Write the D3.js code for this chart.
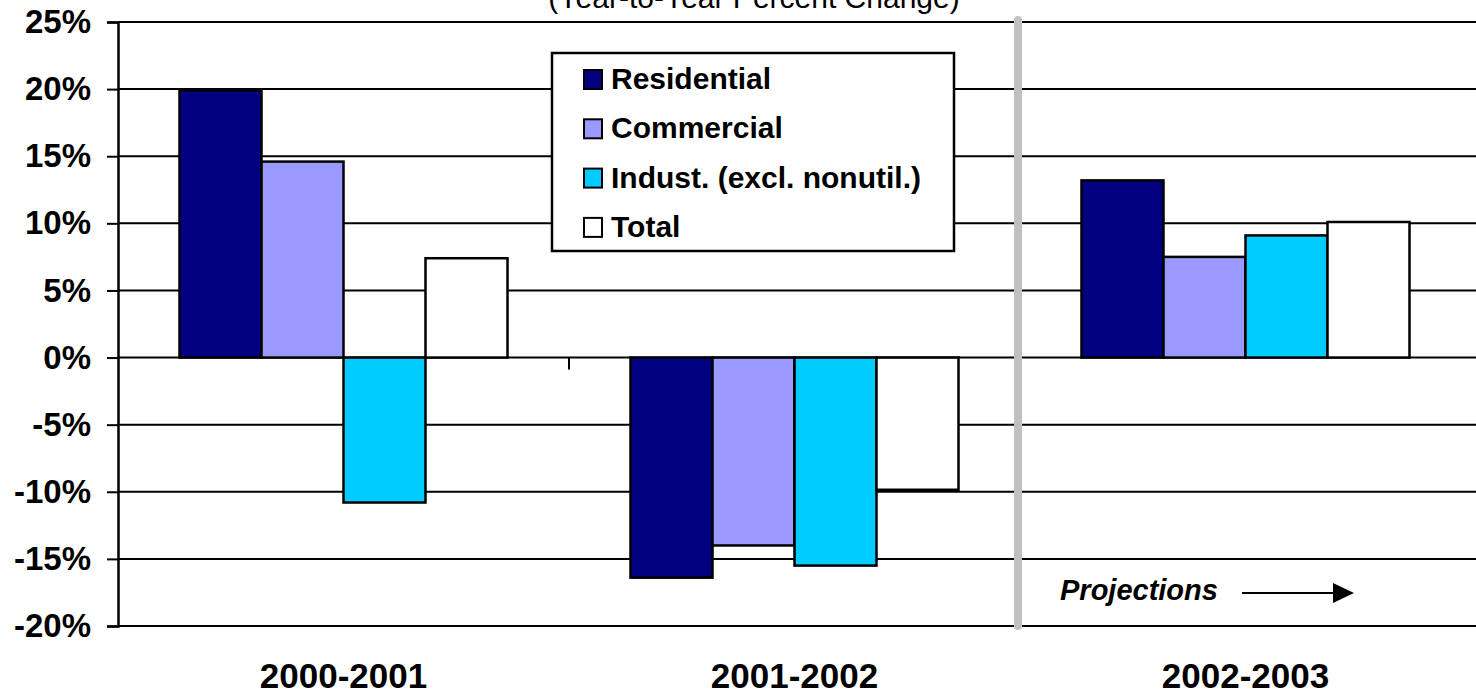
<!DOCTYPE html>
<html>
<head>
<meta charset="utf-8">
<script src="https://cdn.jsdelivr.net/npm/d3@7"></script>
<style>
  html, body { margin: 0; padding: 0; background: #fff; }
  svg { display: block; font-family: "Liberation Sans", Arial, sans-serif; }
</style>
</head>
<body>
<svg width="1476" height="696"></svg>
<script>
// data
var categories = ['2000-2001', '2001-2002', '2002-2003'];
var seriesNames = ['Residential', 'Commercial', 'Indust. (excl. nonutil.)', 'Total'];
var residential = [19.9, -16.4, 13.2];
var commercial = [14.6, -14.0, 7.5];
var industrial = [-10.8, -15.5, 9.1];
var total = [7.4, -9.85, 10.1];
var yTicks = [-20, -15, -10, -5, 0, 5, 10, 15, 20, 25];

var color = {
  residential: '#000080',
  commercial: '#9999FF',
  industrial: '#00CCFF',
  total: '#FFFFFF',
  divider: '#C0C0C0'
};
var fills = [color.residential, color.commercial, color.industrial, color.total];
var series = [residential, commercial, industrial, total];

var svg = d3.select('svg');
// note: "top" is taken by window.top, so plot edges get their own names
var plotLeft = 118, plotRight = 1471, plotTop = 22, plotBottom = 626;

var x = d3.scaleBand().domain(categories).range([plotLeft, plotRight]).padding(0);
var xs = d3.scaleBand().domain(d3.range(series.length)).range([0, x.bandwidth()])
  .paddingInner(0).paddingOuter(0.75);
var y = d3.scaleLinear().domain([-20, 25]).range([plotBottom, plotTop]);

// title (cut off at the top in the original)
svg.append('text').attr('x', 754).attr('y', 8).attr('text-anchor', 'middle')
  .attr('font-size', 30).text('(Year-to-Year Percent Change)');

// gridlines
svg.append('g').selectAll('line').data(yTicks).join('line')
  .attr('x1', plotLeft).attr('x2', 1476)
  .attr('y1', function(d) { return y(d); }).attr('y2', function(d) { return y(d); })
  .attr('stroke', '#000').attr('stroke-width', 2);

// y axis
var yAxis = d3.axisLeft(y).tickValues(yTicks).tickSize(11).tickPadding(16)
  .tickFormat(function(d) { return d + '%'; });
var ya = svg.append('g').attr('transform', 'translate(' + plotLeft + ',0)').call(yAxis);
ya.select('.domain').attr('stroke', '#000').attr('stroke-width', 2.5);
ya.selectAll('.tick line').attr('stroke', '#000').attr('stroke-width', 2);
ya.selectAll('.tick text').attr('font-size', 33).attr('font-weight', 'bold')
  .attr('fill', '#000').attr('font-family', '"Liberation Sans", Arial, sans-serif');

// category boundary ticks on the zero line
svg.append('g').selectAll('line').data(categories.slice(0, 2)).join('line')
  .attr('x1', function(d) { return x(d) + x.bandwidth(); })
  .attr('x2', function(d) { return x(d) + x.bandwidth(); })
  .attr('y1', y(0)).attr('y2', y(0) + 12)
  .attr('stroke', '#000').attr('stroke-width', 2);

// bars
series.forEach(function(values, i) {
  svg.append('g').selectAll('rect').data(values).join('rect')
    .attr('x', function(d, j) { return x(categories[j]) + xs(i); })
    .attr('width', xs.bandwidth())
    .attr('y', function(d) { return y(Math.max(0, d)); })
    .attr('height', function(d) { return Math.abs(y(d) - y(0)); })
    .attr('fill', fills[i]).attr('stroke', '#000').attr('stroke-width', 2.5);
});

// category labels
svg.append('g').selectAll('text').data(categories).join('text')
  .attr('x', function(d) { return x(d) + x.bandwidth() / 2; })
  .attr('y', 688).attr('text-anchor', 'middle')
  .attr('font-size', 35).attr('font-weight', 'bold').text(function(d) { return d; });

// projections divider
svg.append('line').attr('x1', 1018).attr('x2', 1018).attr('y1', 20).attr('y2', 626)
  .attr('stroke', color.divider).attr('stroke-width', 8).attr('stroke-linecap', 'round');

svg.append('text').attr('x', 1060).attr('y', 600)
  .attr('font-size', 29).attr('font-weight', 'bold').attr('font-style', 'italic')
  .text('Projections');
svg.append('line').attr('x1', 1242).attr('x2', 1334).attr('y1', 593).attr('y2', 593)
  .attr('stroke', '#000').attr('stroke-width', 2);
svg.append('path').attr('d', 'M1333,583L1354,593L1333,603Z').attr('fill', '#000');

// legend
var legend = svg.append('g').attr('transform', 'translate(552,53)');
legend.append('rect').attr('width', 402).attr('height', 198)
  .attr('fill', '#fff').attr('stroke', '#000').attr('stroke-width', 2.5);
var items = legend.selectAll('g.item').data(seriesNames).join('g')
  .attr('class', 'item')
  .attr('transform', function(d, i) { return 'translate(0,' + (17 + i * 49.3) + ')'; });
items.append('rect').attr('x', 32).attr('y', 0).attr('width', 18).attr('height', 19)
  .attr('fill', function(d, i) { return fills[i]; }).attr('stroke', '#000').attr('stroke-width', 2);
items.append('text').attr('x', 59).attr('y', 19)
  .attr('font-size', 30).attr('font-weight', 'bold').text(function(d) { return d; });
</script>
</body>
</html>
